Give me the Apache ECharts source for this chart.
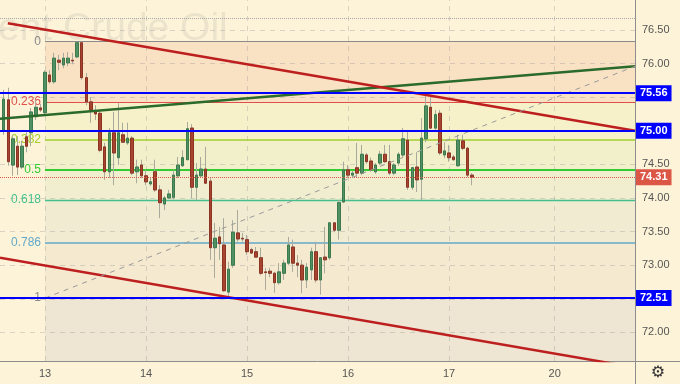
<!DOCTYPE html>
<html><head><meta charset="utf-8">
<style>html,body{margin:0;padding:0;background:#fdf3d8;}#c{width:680px;height:384px;}</style>
<script src="https://cdn.jsdelivr.net/npm/echarts@6/dist/echarts.min.js"></script>
</head><body><div id="c"></div>
<script>
// ---- data ----
const dayLabels = ['13','14','15','16','17','20'];
const dayStartIndex = [0, 22, 44, 66, 88, 111];
const firstCandleIndex = -9;
const opens  = [75.01,75.46,74.49,74.77,74.46,74.91,74.97,75.21,75.34,
  75.27,75.83,75.73,76.05,75.98,76.01,76.05,76.10,76.31,75.79,75.43,75.28,75.26,74.76,74.39,74.97,74.60,74.94,74.82,74.89,74.39,74.49,
  74.33,74.21,74.39,74.12,73.91,74.00,74.01,74.33,74.48,74.57,75.04,74.16,74.33,74.43,74.25,73.26,73.42,73.30,72.60,73.00,73.48,73.40,
  73.38,73.23,73.20,73.11,72.90,72.91,72.88,72.74,72.88,73.03,73.27,73.03,73.00,72.78,72.93,73.20,72.78,73.12,73.11,73.63,73.52,73.94,
  74.42,74.34,74.45,74.37,74.64,74.55,74.39,74.52,74.65,74.54,74.37,74.52,74.64,74.86,74.16,74.46,74.28,74.88,75.35,75.04,75.26,74.64,
  74.67,74.61,74.48,74.85,74.74,74.34];
const closes = [75.47,74.54,74.88,74.46,74.77,74.77,75.28,75.35,75.31,
  75.87,75.73,76.08,76.02,76.08,76.08,76.04,76.31,75.79,75.43,75.31,75.25,74.71,74.39,74.97,74.67,74.97,74.83,74.89,74.37,74.46,74.33,
  74.24,74.24,74.12,73.93,74.00,74.06,74.34,74.49,74.60,75.03,74.16,74.34,74.43,74.22,73.26,73.40,73.32,72.62,72.94,73.49,73.39,73.39,
  73.20,73.18,73.12,72.88,72.89,72.88,72.74,72.90,73.03,73.30,73.03,73.00,72.78,72.97,73.20,72.78,73.11,73.08,73.63,73.52,73.93,74.42,
  74.34,74.37,74.37,74.65,74.54,74.42,74.49,74.65,74.54,74.37,74.49,74.65,74.88,74.16,74.45,74.27,74.89,75.37,75.04,75.24,74.67,74.70,
  74.60,74.57,74.86,74.74,74.34,74.31];
const lows   = [74.94,74.48,74.33,74.34,74.43,74.68,74.77,75.16,75.28,
  75.23,75.70,75.70,75.90,75.93,75.96,75.99,76.08,75.76,75.38,75.12,75.16,74.68,74.27,74.30,74.19,74.49,74.82,74.79,74.34,74.22,74.30,
  74.19,74.18,74.09,73.70,73.82,73.99,73.98,74.30,74.46,74.56,74.00,73.97,74.30,74.21,73.08,72.81,73.08,72.60,72.51,72.96,73.35,73.35,
  73.15,73.17,73.11,72.85,72.63,72.82,72.59,72.71,72.78,73.00,72.90,72.82,72.58,72.66,72.78,72.74,72.56,72.88,73.08,73.49,73.38,73.93,
  74.30,74.30,74.30,74.34,74.51,74.39,74.36,74.49,74.52,74.34,74.34,74.48,74.61,74.12,74.12,74.09,73.97,74.83,75.03,75.01,74.64,74.59,
  74.54,74.55,74.46,74.71,74.31,74.19];
const highs  = [75.61,75.64,74.94,74.92,74.85,74.98,75.34,75.46,75.40,
  75.90,75.90,76.16,76.13,76.16,76.17,76.16,76.32,76.33,75.86,75.50,75.38,75.31,74.82,75.04,75.28,75.41,75.12,75.12,74.92,74.57,74.57,
  74.42,74.30,74.57,74.19,74.03,74.12,74.42,74.61,74.71,75.13,75.10,74.52,74.61,74.76,74.30,73.63,73.57,73.70,73.05,73.67,73.82,73.48,
  73.45,73.26,73.27,73.26,72.96,72.96,72.90,73.03,73.08,73.42,73.38,73.15,73.08,73.03,73.26,73.35,73.12,73.57,73.64,73.64,73.97,74.54,
  74.49,74.40,74.82,74.79,74.67,74.60,74.52,74.70,74.79,74.79,74.52,74.68,75.04,75.01,74.46,74.68,75.19,75.53,75.56,75.31,75.31,74.83,
  74.79,74.64,74.94,74.94,74.76,74.37];
const fibRatios = [0, 0.236, 0.382, 0.5, 0.618, 0.786, 1];
const fibLabels = ['0', '0.236', '0.382', '0.5', '0.618', '0.786', '1'];
const fibHigh = 76.33, fibLow = 72.51;
const keyLevels = [75.56, 75.00, 72.51];
const lastPrice = 74.31;
const alertLevel = 76.68;
const priceTicks = [72.00, 73.00, 73.50, 74.00, 74.50, 76.00, 76.50];
const gridPrices = [72.0, 72.5, 73.0, 73.5, 74.0, 74.5, 75.0, 75.5, 76.0, 76.5];
const upperRedLine = [[-8.1, 76.60], [128.5, 75.00]];
const lowerRedLine = [[-9.8, 73.11], [130, 71.46]];
const greenLine    = [[-9.8, 75.18], [128.5, 75.96]];
const fibTrendLine = [[0, 72.51], [128.5, 75.96]];

// ---- setup ----
const X_MIN = -9.8, X_MAX = 128.5, Y_MIN = 71.574, Y_MAX = 76.946;
const fibColors = ['#8a8a8a', '#e0504a', '#a2cf2e', '#33cc33', '#44c08e', '#62a9c9', '#8a8a8a'];
const fibWidths = [1, 1.2, 1.5, 1.8, 1.3, 1.5, 1];
const bandColors = ['#f9e1c4', '#f6f1c8', '#f2f0cb', '#f0eecf', '#f1ebd2', '#f5e9cf'];
const fibLevels = fibRatios.map(r => fibHigh - r * (fibHigh - fibLow));

const wickData = opens.map((o, i) => [i + firstCandleIndex, o, closes[i], lows[i], highs[i]]);
const bodyData = opens.map((o, i) => [i + firstCandleIndex, o, closes[i], Math.min(o, closes[i]), Math.max(o, closes[i])]);

const bandAreas = [];
for (let i = 0; i < fibLevels.length - 1; i++) {
  bandAreas.push([{coord: [0, fibLevels[i]], itemStyle: {color: bandColors[i]}}, {coord: [X_MAX, fibLevels[i + 1]]}]);
}
bandAreas.push([{coord: [0, fibLow], itemStyle: {color: '#eee5d2'}}, {coord: [X_MAX, Y_MIN]}]);

const gridLines = [];
gridPrices.forEach(p => gridLines.push([{coord: [X_MIN, p]}, {coord: [X_MAX, p]}]));
dayStartIndex.forEach(d => gridLines.push([{coord: [d, Y_MIN]}, {coord: [d, Y_MAX]}]));
gridLines.push([{coord: [X_MIN, alertLevel], lineStyle: {type: 'dotted', color: '#a8a8a8'}}, {coord: [X_MAX, alertLevel]}]);

const fibLines = fibLevels.map((lv, i) => [
  {coord: [0, lv], lineStyle: {color: fibColors[i], width: fibWidths[i], type: 'solid', opacity: 1},
   label: {show: true, position: 'start', formatter: fibLabels[i], color: fibColors[i], fontSize: 12, distance: 4}},
  {coord: [X_MAX, lv]}
]);

const keyLines = keyLevels.map(lv => [
  {coord: [X_MIN, lv], label: {show: true, position: 'end', formatter: lv.toFixed(2), color: '#fff',
     backgroundColor: '#0000ff', padding: [3, 4, 2, 4], fontSize: 11, fontWeight: 'bold', distance: 1}},
  {coord: [X_MAX, lv]}
]);

const priceLine = [[
  {coord: [X_MIN, lastPrice], label: {show: true, position: 'end', formatter: lastPrice.toFixed(2), color: '#fff',
     backgroundColor: '#dc5646', padding: [3, 4, 2, 4], fontSize: 11, fontWeight: 'bold', distance: 1}},
  {coord: [X_MAX, lastPrice]}
]];

function trend(name, pts, color, width, type, z) {
  return {name, type: 'line', data: pts, showSymbol: false, symbol: 'none', clip: true, z: z,
    lineStyle: {color, width, type}, silent: true};
}

const chart = echarts.init(document.getElementById('c'));
chart.setOption({
  animation: false,
  backgroundColor: '#fdf3d8',
  grid: {left: 0, right: 45, top: 0, bottom: 23, containLabel: false, outerBoundsMode: 'none'},
  xAxis: {
    type: 'value', min: X_MIN, max: X_MAX,
    axisLine: {show: true, onZero: false, lineStyle: {color: '#8d8d8d'}},
    axisTick: {show: false}, splitLine: {show: false},
    axisLabel: {customValues: dayStartIndex, formatter: v => dayLabels[dayStartIndex.indexOf(v)] || '',
      color: '#555', fontSize: 11, margin: 7, fontFamily: 'Liberation Sans, Arial'}
  },
  yAxis: {
    type: 'value', position: 'right', min: Y_MIN, max: Y_MAX, scale: true,
    axisLine: {show: true, onZero: false, lineStyle: {color: '#8d8d8d'}},
    axisTick: {show: false}, splitLine: {show: false},
    axisLabel: {customValues: priceTicks, formatter: v => v.toFixed(2), color: '#555', fontSize: 11, margin: 7,
      fontFamily: 'Liberation Sans, Arial'}
  },
  graphic: [
    {type: 'text', x: -41, y: 29.5, z: 0, silent: true,
     style: {text: 'Brent Crude Oil', font: '39px "Liberation Sans", Arial', fill: 'rgba(120,120,120,0.13)', verticalAlign: 'middle'}},
    {type: 'line', silent: true, shape: {x1: 635, y1: 361.5, x2: 680, y2: 361.5}, style: {stroke: '#8d8d8d', lineWidth: 1}},
    {type: 'line', silent: true, shape: {x1: 635.5, y1: 361, x2: 635.5, y2: 384}, style: {stroke: '#8d8d8d', lineWidth: 1}},
    {type: 'text', x: 658, y: 373, silent: true,
     style: {text: '\u2699', font: '16px "DejaVu Sans"', fill: '#333', align: 'center', verticalAlign: 'middle'}}
  ],
  series: [
    {name: 'bands', type: 'line', data: [], z: 0, markArea: {silent: true, z: 0, data: bandAreas}},
    {name: 'grid', type: 'line', data: [], z: 1,
     markLine: {silent: true, z: 1, symbol: 'none', label: {show: false},
       lineStyle: {color: 'rgba(150,150,150,0.35)', type: [5, 5], width: 1}, data: gridLines}},
    {name: 'fib', type: 'line', data: [], z: 1,
     markLine: {silent: true, z: 1, symbol: 'none', lineStyle: {type: 'solid', opacity: 1}, data: fibLines}},
    {name: 'wicks', type: 'candlestick', data: wickData, encode: {x: 0, y: [1, 2, 3, 4]}, barWidth: 3, z: 2, silent: true,
     itemStyle: {color: '#a9aa9c', color0: '#a9aa9c', borderColor: '#a9aa9c', borderColor0: '#a9aa9c', borderWidth: 1}},
    {name: 'bodies', type: 'candlestick', data: bodyData, encode: {x: 0, y: [1, 2, 3, 4]}, barWidth: 3, z: 3, silent: true,
     itemStyle: {color: '#4f9162', color0: '#a8432f', borderColor: '#3c7a4e', borderColor0: '#8c3424', borderWidth: 1}},
    {name: 'price', type: 'line', data: [], z: 4,
     markLine: {silent: true, z: 4, symbol: 'none', lineStyle: {color: '#dc5646', type: 'dotted', width: 1}, data: priceLine}},
    trend('green', greenLine, '#2a6a2a', 2.5, 'solid', 5),
    trend('upperRed', upperRedLine, '#bd1e1e', 2.5, 'solid', 5),
    trend('lowerRed', lowerRedLine, '#bd1e1e', 2.5, 'solid', 5),
    trend('fibTrend', fibTrendLine, '#9a9a9a', 1, [5, 5], 5),
    {name: 'levels', type: 'line', data: [], z: 6,
     markLine: {silent: true, z: 6, symbol: 'none', lineStyle: {color: '#0000ff', type: 'solid', width: 2}, data: keyLines}}
  ]
});
</script>
</body></html>
